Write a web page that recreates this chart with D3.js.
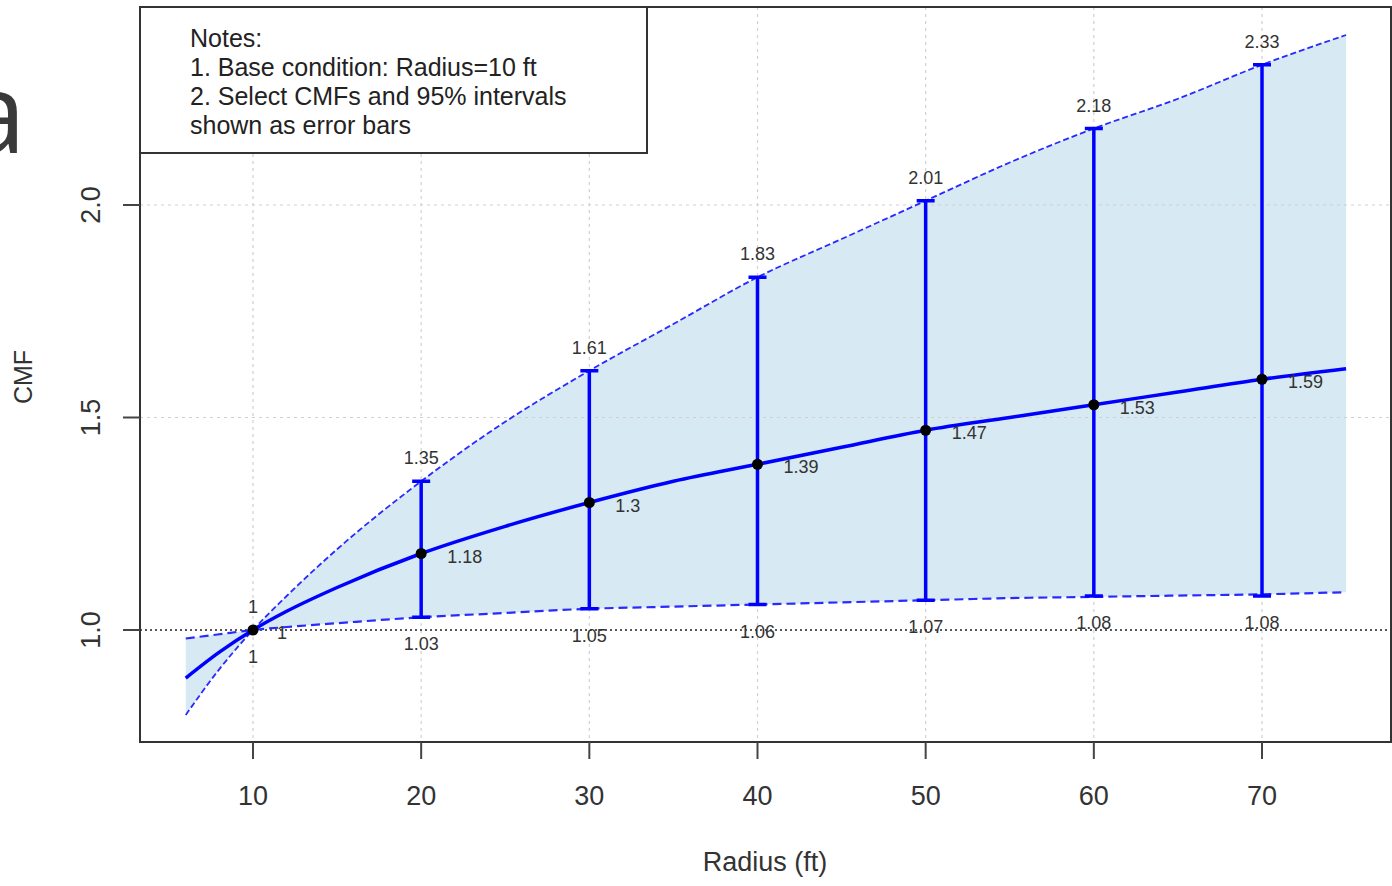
<!DOCTYPE html>
<html>
<head>
<meta charset="utf-8">
<script src="https://cdn.jsdelivr.net/npm/d3@7"></script>
<style>
  body { margin: 0; background: #fff; }
  svg text { font-family: "Liberation Sans", Arial, sans-serif; }
</style>
</head>
<body>
<svg width="1392" height="886"></svg>
<script>
// curve values (Radius in ft, CMF)
var radius = [6, 8, 10, 12, 15, 20, 25, 30, 35, 40, 45, 50, 55, 60, 65, 70, 75];
var cmf    = [0.887, 0.948, 1.00, 1.044, 1.10, 1.18, 1.244, 1.30, 1.35, 1.39, 1.43, 1.47, 1.50, 1.53, 1.56, 1.59, 1.615];
var upper  = [0.80, 0.908, 1.00, 1.08, 1.19, 1.35, 1.49, 1.61, 1.72, 1.83, 1.92, 2.01, 2.10, 2.18, 2.25, 2.33, 2.40];
var lower  = [0.98, 0.99, 1.00, 1.007, 1.016, 1.03, 1.04, 1.05, 1.055, 1.06, 1.065, 1.07, 1.075, 1.078, 1.081, 1.084, 1.089];

// selected CMFs with 95% intervals
var barRadius = [10, 20, 30, 40, 50, 60, 70];
var barCmf    = [1, 1.18, 1.3, 1.39, 1.47, 1.53, 1.59];
var barUpper  = [1, 1.35, 1.61, 1.83, 2.01, 2.18, 2.33];
var barLower  = [1, 1.03, 1.05, 1.06, 1.07, 1.08, 1.08];

var xTicks = [10, 20, 30, 40, 50, 60, 70];
var yTicks = [1.0, 1.5, 2.0];
var notes = ["Notes:", "1. Base condition: Radius=10 ft", "2. Select CMFs and 95% intervals", "shown as error bars"];

var svg = d3.select("svg");
var pLeft = 140, pRight = 1391, pTop = 7, pBottom = 742;
var blue = "#0000ff", txt = "#333";

var x = d3.scaleLinear().domain([10, 70]).range([253, 1262]);
var y = d3.scaleLinear().domain([1.0, 2.0]).range([630, 205]);

// slide leftover glyph
svg.append("text").attr("x", 26).attr("y", 153).attr("text-anchor", "end")
  .style("font-family", "'Open Sans', sans-serif").attr("font-size", 112)
  .attr("fill", "#3a3a3a").text("a");

var pts = radius.map(function(r, i) { return {r: r, c: cmf[i], u: upper[i], l: lower[i]}; });

// interval band
svg.append("path").datum(pts)
  .attr("fill", "#d7e9f2")
  .attr("d", d3.area().curve(d3.curveMonotoneX)
    .x(function(d) { return x(d.r); })
    .y0(function(d) { return y(d.l); })
    .y1(function(d) { return y(d.u); }));

// grid
var grid = svg.append("g").attr("stroke", "#d0d0d0").attr("stroke-width", 1.2).attr("stroke-dasharray", "3,4");
grid.selectAll(".gx").data(xTicks).enter().append("line")
  .attr("x1", function(d) { return x(d); }).attr("x2", function(d) { return x(d); })
  .attr("y1", pTop).attr("y2", pBottom);
grid.selectAll(".gy").data(yTicks.slice(1)).enter().append("line")
  .attr("x1", pLeft).attr("x2", pRight)
  .attr("y1", function(d) { return y(d); }).attr("y2", function(d) { return y(d); });

// reference line at CMF = 1
svg.append("line").attr("x1", pLeft).attr("x2", pRight).attr("y1", y(1)).attr("y2", y(1))
  .attr("stroke", "#222").attr("stroke-width", 1.6).attr("stroke-dasharray", "2,3");

// dashed bounds
var lineOf = function(key) {
  return d3.line().curve(d3.curveMonotoneX)
    .x(function(d) { return x(d.r); })
    .y(function(d) { return y(d[key]); });
};
svg.append("path").datum(pts).attr("fill", "none").attr("stroke", "#2a2aff")
  .attr("stroke-width", 1.8).attr("stroke-dasharray", "6,3").attr("d", lineOf("u"));
svg.append("path").datum(pts).attr("fill", "none").attr("stroke", "#2a2aff")
  .attr("stroke-width", 2.2).attr("stroke-dasharray", "9,5").attr("d", lineOf("l"));

// CMF curve
svg.append("path").datum(pts).attr("fill", "none").attr("stroke", blue)
  .attr("stroke-width", 3.5).attr("d", lineOf("c"));

var bars = barRadius.map(function(r, i) {
  return {r: r, c: barCmf[i], u: barUpper[i], l: barLower[i]};
});

// error bars
var eb = svg.append("g").attr("stroke", blue).attr("stroke-width", 3.5);
bars.filter(function(d) { return d.u > d.l; }).forEach(function(d) {
  var cx = x(d.r);
  eb.append("line").attr("x1", cx).attr("x2", cx).attr("y1", y(d.l)).attr("y2", y(d.u));
  eb.append("line").attr("x1", cx - 9).attr("x2", cx + 9).attr("y1", y(d.l)).attr("y2", y(d.l));
  eb.append("line").attr("x1", cx - 9).attr("x2", cx + 9).attr("y1", y(d.u)).attr("y2", y(d.u));
});

// points
svg.selectAll(".pt").data(bars).enter().append("circle")
  .attr("cx", function(d) { return x(d.r); })
  .attr("cy", function(d) { return y(d.c); })
  .attr("r", 5.5).attr("fill", "#000");

// value labels
var lab = svg.append("g").attr("font-size", 18).attr("fill", txt);
lab.selectAll(".lu").data(bars).enter().append("text")
  .attr("text-anchor", "middle")
  .attr("x", function(d) { return x(d.r); })
  .attr("y", function(d) { return y(d.u) - 17; })
  .text(function(d) { return d.u; });
lab.selectAll(".ll").data(bars).enter().append("text")
  .attr("text-anchor", "middle")
  .attr("x", function(d) { return x(d.r); })
  .attr("y", function(d) { return y(d.l) + 33; })
  .text(function(d) { return d.l; });
lab.selectAll(".lc").data(bars).enter().append("text")
  .attr("x", function(d) { return x(d.r) + (d.r === 10 ? 24 : 26); })
  .attr("y", function(d) { return y(d.c) + 9; })
  .text(function(d) { return d.c; });

// axes box + ticks
svg.append("rect").attr("x", pLeft).attr("y", pTop).attr("width", pRight - pLeft).attr("height", pBottom - pTop)
  .attr("fill", "none").attr("stroke", "#333").attr("stroke-width", 2);

var xa = svg.append("g");
xa.selectAll("line").data(xTicks).enter().append("line")
  .attr("x1", function(d) { return x(d); }).attr("x2", function(d) { return x(d); })
  .attr("y1", pBottom).attr("y2", pBottom + 17).attr("stroke", "#444").attr("stroke-width", 2);
xa.selectAll("text").data(xTicks).enter().append("text")
  .attr("x", function(d) { return x(d); }).attr("y", 805)
  .attr("text-anchor", "middle").attr("font-size", 27).attr("fill", txt)
  .text(function(d) { return d; });

var ya = svg.append("g");
ya.selectAll("line").data(yTicks).enter().append("line")
  .attr("x1", pLeft - 17).attr("x2", pLeft)
  .attr("y1", function(d) { return y(d); }).attr("y2", function(d) { return y(d); })
  .attr("stroke", "#444").attr("stroke-width", 2);
ya.selectAll("text").data(yTicks).enter().append("text")
  .attr("transform", function(d) { return "translate(100," + y(d) + ") rotate(-90)"; })
  .attr("text-anchor", "middle").attr("font-size", 27).attr("fill", txt)
  .text(function(d) { return d3.format(".1f")(d); });

svg.append("text").attr("x", 765).attr("y", 871).attr("text-anchor", "middle")
  .attr("font-size", 27).attr("fill", txt).text("Radius (ft)");
svg.append("text").attr("transform", "translate(32,377) rotate(-90)")
  .attr("text-anchor", "middle").attr("font-size", 25).attr("fill", txt).text("CMF");

// notes box
svg.append("rect").attr("x", pLeft).attr("y", pTop).attr("width", 507).attr("height", 146)
  .attr("fill", "#fff").attr("stroke", "#333").attr("stroke-width", 2);
svg.append("g").selectAll("text").data(notes).enter().append("text")
  .attr("x", 190).attr("y", function(d, i) { return 47 + i * 29; })
  .attr("font-size", 25).attr("fill", "#222")
  .text(function(d) { return d; });
</script>
</body>
</html>
